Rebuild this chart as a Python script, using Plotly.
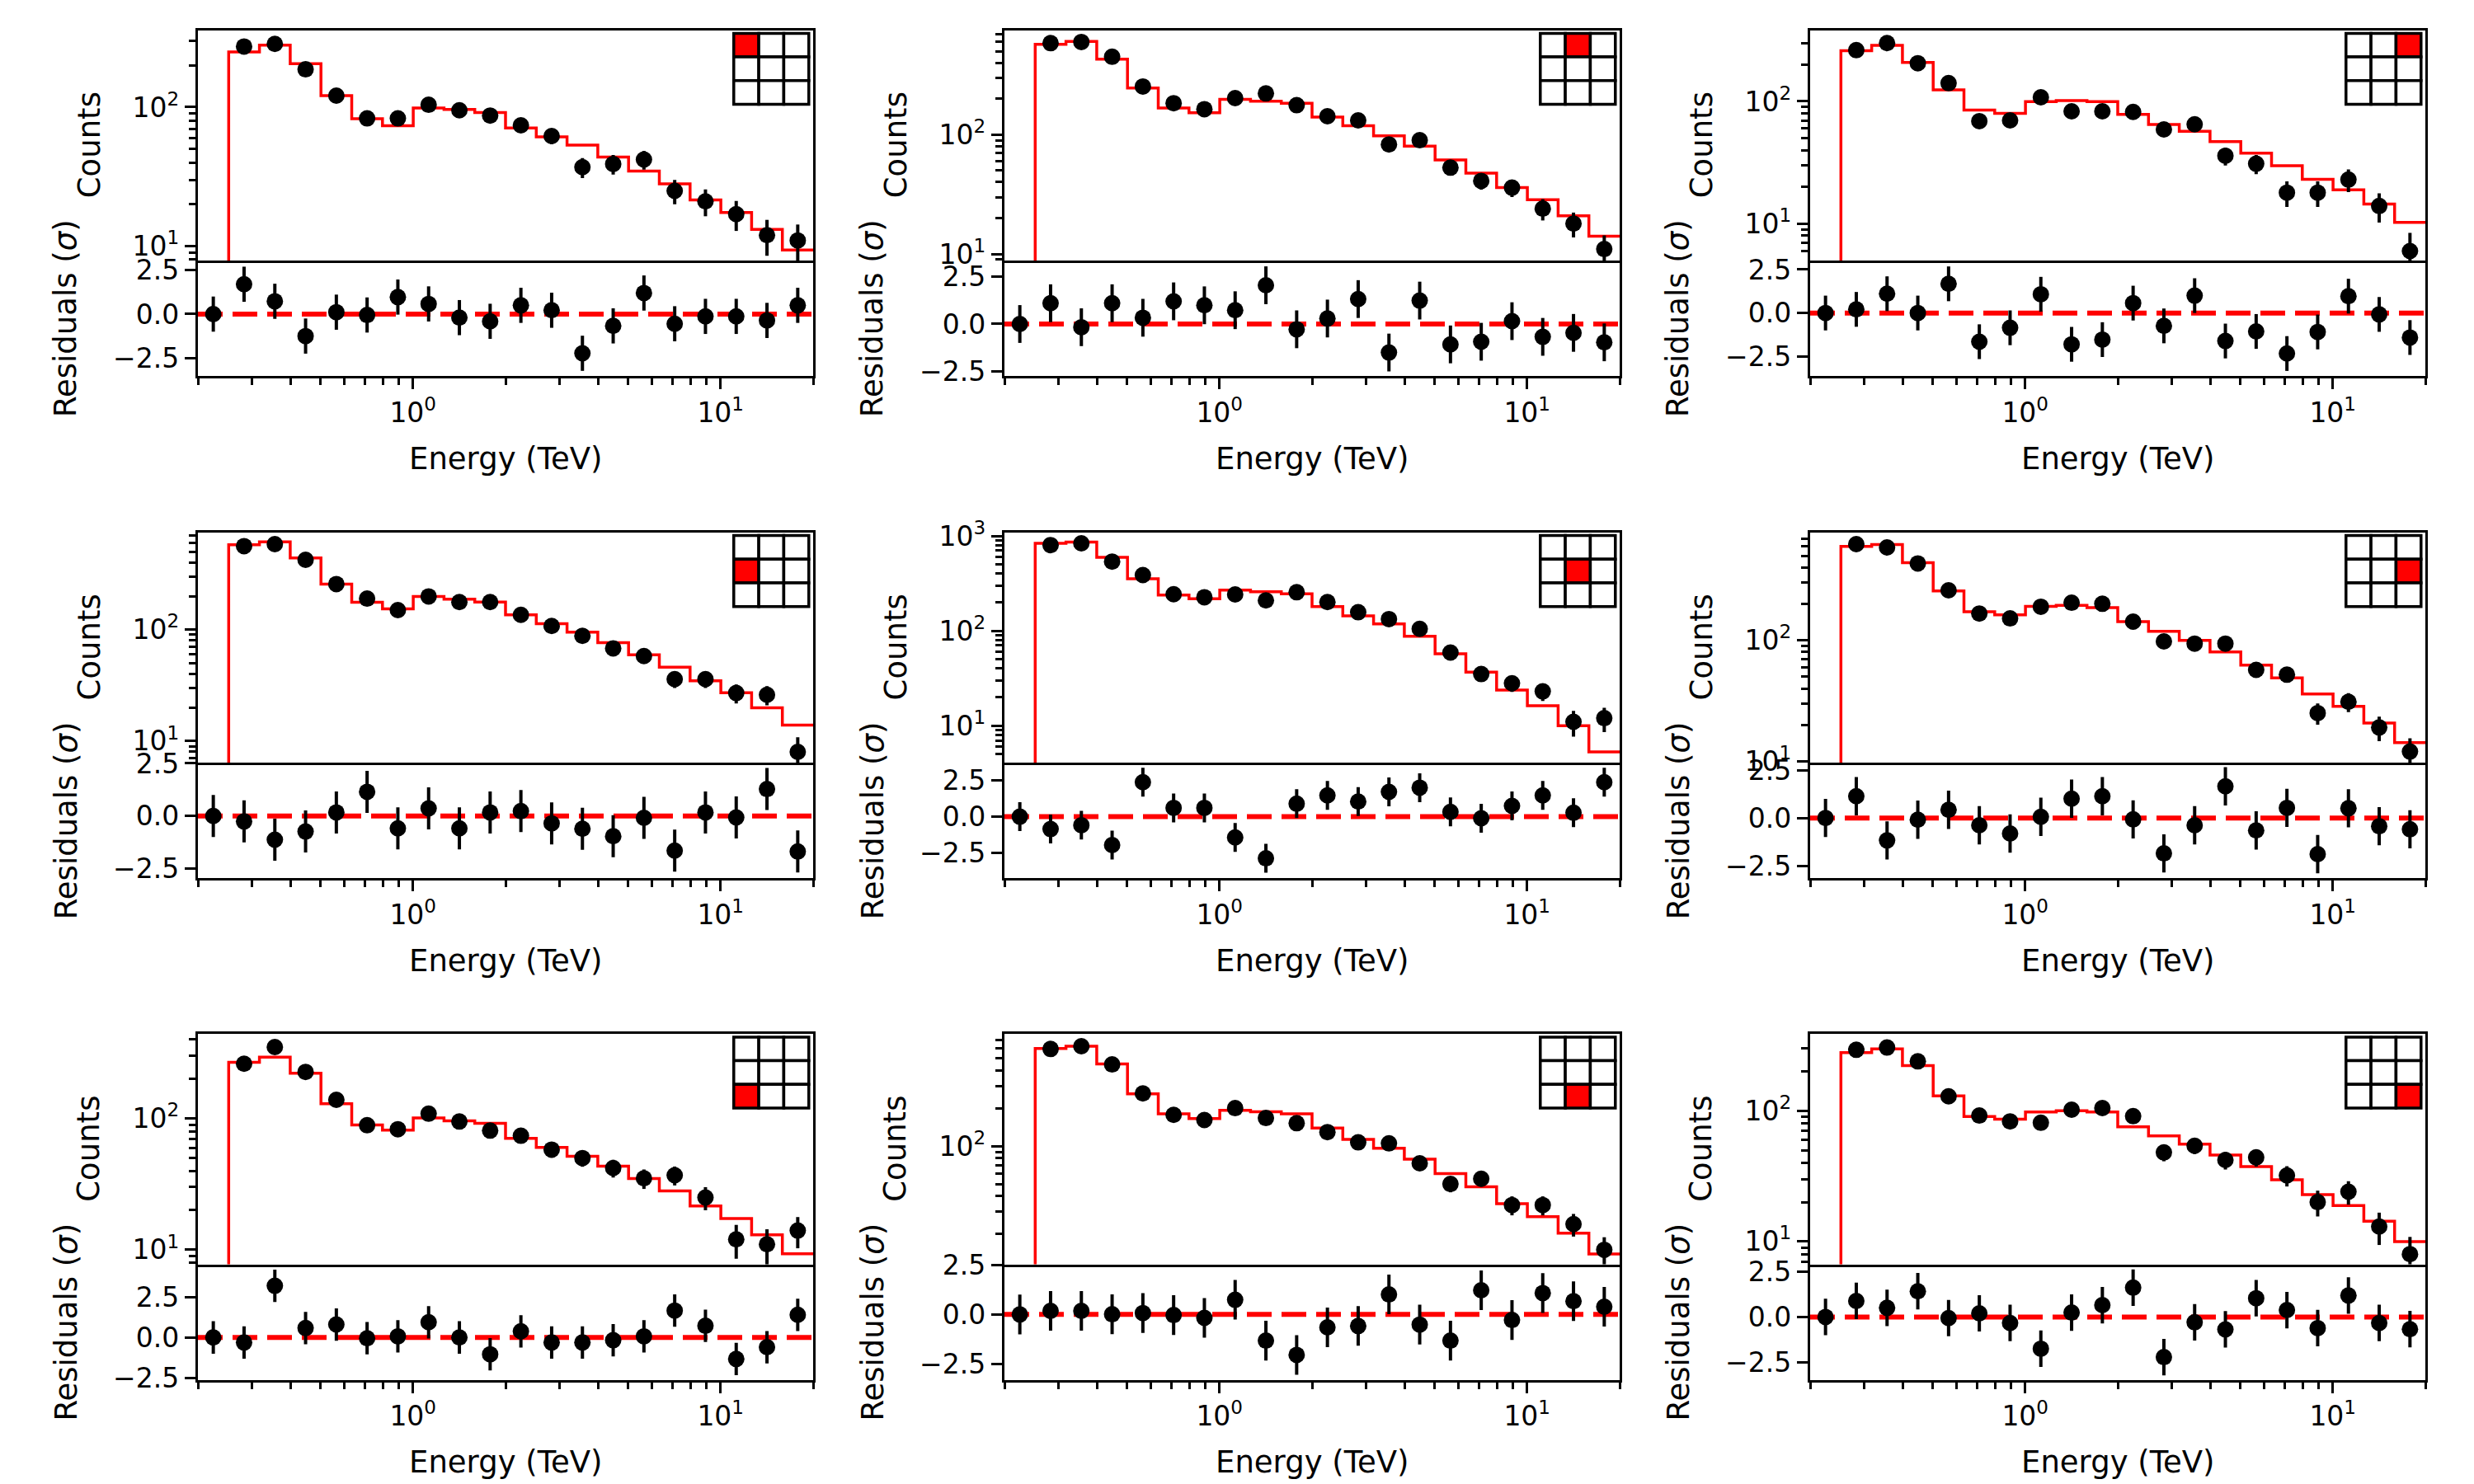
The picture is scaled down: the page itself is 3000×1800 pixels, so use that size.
import numpy as np
import plotly.graph_objects as go

# ---------------- data ----------------
energy_edges = [0.2, 0.2518, 0.3170, 0.3991, 0.5024, 0.6325, 0.7962, 1.0024, 1.2619, 1.5887,
                2.0, 2.5179, 3.1698, 3.9905, 5.0238, 6.3246, 7.9621, 10.024, 12.619, 15.887, 20.0]

counts_1 = [0, 273, 285, 187, 121, 83, 83, 104, 95, 87, 74, 62, 37, 39, 42, 25, 21, 17, 12, 11]
model_1 = [0, 249, 279, 205, 121, 82.6, 73.6, 98.7, 96.4, 91.3, 70.8, 61.1, 53.3, 43.8, 34.7, 28.1, 21.5, 17.5, 13.2, 9.4]
resid_1 = [0.0, 1.70, 0.73, -1.25, 0.11, -0.05, 0.97, 0.58, -0.20, -0.41, 0.50, 0.22, -2.23, -0.67, 1.20, -0.55, -0.13, -0.13, -0.36, 0.50]

counts_2 = [0, 587, 600, 451, 254, 184, 164, 203, 222, 177, 143, 132, 83, 90, 53, 41, 36, 24, 18, 11]
model_2 = [0, 573, 607, 431, 247, 168, 153, 198, 191, 184, 141, 119, 98, 80.4, 61.6, 47.7, 36, 28.5, 20.9, 14.1]
resid_2 = [0.0, 1.10, -0.17, 1.10, 0.33, 1.20, 0.99, 0.73, 2.05, -0.28, 0.29, 1.32, -1.51, 1.24, -1.08, -0.94, 0.15, -0.68, -0.47, -0.97]

counts_3 = [0, 262, 299, 205, 141, 69, 70, 108, 83, 83, 82, 59, 65, 36, 31, 18, 18, 23, 14, 6]
model_3 = [0, 259, 287, 208, 124, 85.1, 80, 99.5, 101.6, 99.5, 78.3, 64.7, 56.9, 47, 37.8, 29.9, 23.1, 19, 14.5, 10.3]
resid_3 = [0.0, 0.21, 1.11, 0.0, 1.68, -1.65, -0.85, 1.08, -1.80, -1.53, 0.57, -0.74, 1.00, -1.61, -1.06, -2.33, -1.09, 0.97, -0.08, -1.41]

counts_4 = [0, 563, 586, 424, 257, 190, 150, 199, 177, 177, 136, 108, 88, 68, 58, 36, 36, 27, 26, 8]
model_4 = [0, 579, 614, 441, 257, 176, 154, 199, 188, 177, 136, 113, 95, 76.6, 59.6, 46.1, 34.7, 27.2, 19.9, 13.9]
resid_4 = [0.0, -0.26, -1.13, -0.74, 0.17, 1.15, -0.59, 0.36, -0.59, 0.17, 0.23, -0.35, -0.61, -0.96, -0.09, -1.65, 0.17, -0.07, 1.28, -1.69]

counts_5 = [0, 801, 836, 537, 387, 243, 226, 242, 209, 255, 201, 157, 133, 105, 59, 35, 28, 23, 11, 12]
model_5 = [0, 836, 863, 594, 353, 238, 218, 269, 258, 246, 180, 144, 118, 87.5, 57.4, 36.7, 23.8, 16.2, 10, 5.3]
resid_5 = [0.0, -0.86, -0.59, -1.97, 2.39, 0.61, 0.61, -1.44, -2.89, 0.90, 1.48, 1.05, 1.72, 2.01, 0.33, -0.11, 0.75, 1.48, 0.27, 2.39]

counts_6 = [0, 627, 589, 434, 260, 167, 152, 190, 205, 201, 143, 98, 94, 94, 57, 52, 25, 31, 19, 12]
model_6 = [0, 601, 621, 441, 257, 173, 163, 191, 195, 187, 143, 119, 100, 80.2, 62.4, 48.8, 36, 28.4, 20.7, 14.2]
resid_6 = [0.0, 1.14, -1.17, -0.09, 0.43, -0.38, -0.81, 0.06, 1.01, 1.14, -0.07, -1.85, -0.38, 1.66, -0.65, 0.53, -1.89, 0.51, -0.43, -0.59]

counts_7 = [0, 262, 351, 227, 139, 89, 83, 109, 95, 81, 74, 58, 50, 42, 35, 37, 25, 12, 11, 14]
model_7 = [0, 269, 294, 222, 130, 89.5, 81.6, 101, 96.2, 92.1, 70.6, 60.2, 51.6, 43.4, 34.9, 28.1, 21.6, 17.3, 13, 9.3]
resid_7 = [0.0, -0.31, 3.19, 0.58, 0.80, -0.05, 0.07, 0.94, 0.0, -1.04, 0.38, -0.31, -0.31, -0.17, 0.07, 1.66, 0.72, -1.33, -0.60, 1.40]

counts_8 = [0, 590, 621, 445, 262, 177, 161, 200, 167, 152, 129, 107, 105, 73, 50, 55, 34, 34, 24, 15]
model_8 = [0, 596, 621, 448, 260, 180, 165, 192, 187, 180, 139, 113, 96.2, 78.6, 60.5, 47.5, 34.8, 27.5, 20.3, 13.9]
resid_8 = [0.0, 0.18, 0.18, 0.01, 0.07, -0.03, -0.17, 0.74, -1.32, -2.04, -0.65, -0.58, 1.01, -0.51, -1.32, 1.22, -0.28, 1.08, 0.67, 0.39]

counts_9 = [0, 293, 305, 239, 129, 92, 83, 81, 102, 105, 91, 48, 54, 42, 44, 32, 20, 24, 13, 8]
model_9 = [0, 279, 298, 222, 130, 90.3, 86.1, 98.1, 100, 98.1, 75.5, 64.3, 55.6, 45.8, 37.4, 29.6, 22.8, 18.8, 14.3, 9.96]
resid_9 = [0.0, 0.88, 0.50, 1.41, -0.06, 0.20, -0.33, -1.74, 0.24, 0.65, 1.61, -2.20, -0.29, -0.68, 1.03, 0.38, -0.61, 1.18, -0.33, -0.67]

counts_all = [counts_1, counts_2, counts_3, counts_4, counts_5, counts_6, counts_7, counts_8, counts_9]
model_all = [model_1, model_2, model_3, model_4, model_5, model_6, model_7, model_8, model_9]
resid_all = [resid_1, resid_2, resid_3, resid_4, resid_5, resid_6, resid_7, resid_8, resid_9]

x_tick_vals = [1, 10]
x_tick_text = ["10<sup>0</sup>", "10<sup>1</sup>"]
count_tick_vals = [1, 10, 100, 1000]
count_tick_text = ["10<sup>0</sup>", "10<sup>1</sup>", "10<sup>2</sup>", "10<sup>3</sup>"]
resid_tick_vals = [-2.5, 0.0, 2.5]
resid_tick_text = ["\u22122.5", "0.0", "2.5"]

x_label = "Energy (TeV)"
counts_label = "Counts"
resid_label = "Residuals (<i>\u03c3</i>)"

# ---------------- layout config (positions / ranges) ----------------
W, H = 3000, 1800
OFF = 8  # default page margin of the html body
col_left = [240 - OFF, 1218 - OFF, 2195 - OFF]
ax_w = 746
row_top = [36.5 - OFF, 645.7 - OFF, 1254.0 - OFF]
cnt_h = 279.5
res_h = 140.0

count_ranges = [[0.897, 2.554], [0.945, 2.878], [0.701, 2.582],
                [0.805, 2.874], [0.609, 3.038], [0.986, 2.895],
                [0.889, 2.646], [1.061, 2.891], [0.825, 2.589]]
resid_ranges = [[-3.52, 3.05], [-2.75, 3.36], [-3.62, 3.02],
                [-2.96, 2.53], [-4.27, 3.74], [-3.15, 2.89],
                [-2.61, 4.52], [-3.29, 2.53], [-3.44, 2.89]]

FONT = "DejaVu Sans"
TICK_FS = 33
LABEL_FS = 37
LW = 3.3

edges = np.array(energy_edges)
centers = np.sqrt(edges[:-1] * edges[1:])
log_minor = [k * 10.0 ** d for d in range(-1, 4) for k in range(2, 10)]
x_minor = [v for v in log_minor if 0.2 <= v <= 20 and v not in (1, 10)]

fig = go.Figure()
layout = dict(width=W, height=H, margin=dict(l=0, r=0, t=0, b=0, pad=0, autoexpand=False),
              template="none",
              paper_bgcolor="white", plot_bgcolor="white", showlegend=False,
              font=dict(family=FONT, size=TICK_FS, color="black"))
shapes = []
annotations = []

def axname(kind, i):
    return f"{kind}axis" if i == 1 else f"{kind}axis{i}"

def ref(kind, i):
    return kind if i == 1 else f"{kind}{i}"

base_axis = dict(showline=True, linecolor="black", linewidth=LW, mirror=True,
                 showgrid=False, zeroline=False, tickcolor="black", automargin=False,
                 tickfont=dict(family=FONT, size=TICK_FS, color="black"))

for p in range(9):
    r, c = p // 3, p % 3
    ic, ir = 2 * p + 1, 2 * p + 2
    x0 = col_left[c] / W
    x1 = (col_left[c] + ax_w) / W
    top = row_top[r]
    cy1 = 1 - top / H
    cy0 = 1 - (top + cnt_h) / H
    ry1 = cy0
    ry0 = 1 - (top + cnt_h + res_h) / H

    # counts axes
    layout[axname("x", ic)] = dict(base_axis, type="log", domain=[x0, x1],
                                   range=[np.log10(0.2), np.log10(20)],
                                   anchor=ref("y", ic), ticks="", showticklabels=False)
    layout[axname("y", ic)] = dict(base_axis, type="log", domain=[cy0, cy1],
                                   range=count_ranges[p], anchor=ref("x", ic),
                                   ticks="outside", ticklen=13, tickwidth=3,
                                   tickmode="array", tickvals=count_tick_vals,
                                   ticktext=count_tick_text,
                                   minor=dict(tickmode="array", tickvals=log_minor,
                                              ticks="outside", ticklen=8, tickwidth=2.5,
                                              tickcolor="black"))
    # residual axes (no top line: the counts panel's bottom line is shared)
    layout[axname("x", ir)] = dict(base_axis, type="log", domain=[x0, x1], mirror=False,
                                   range=[np.log10(0.2), np.log10(20)],
                                   anchor=ref("y", ir), ticks="outside", ticklen=13,
                                   tickwidth=3, tickmode="array", tickvals=x_tick_vals,
                                   ticktext=x_tick_text,
                                   minor=dict(tickmode="array", tickvals=x_minor,
                                              ticks="outside", ticklen=8, tickwidth=2.5,
                                              tickcolor="black"))
    layout[axname("y", ir)] = dict(base_axis, domain=[ry0, ry1], range=resid_ranges[p],
                                   anchor=ref("x", ir), ticks="outside", ticklen=13,
                                   tickwidth=3, tickmode="array", tickvals=resid_tick_vals,
                                   ticktext=resid_tick_text)

    cnt = np.array(counts_all[p], dtype=float)
    mod = np.array(model_all[p], dtype=float)
    res = np.array(resid_all[p], dtype=float)

    # model step histogram
    step_y = np.append(mod, mod[-1])
    step_y = np.where(step_y > 0, step_y, 1e-3)
    fig.add_trace(go.Scatter(x=edges, y=step_y, mode="lines",
                             line=dict(color="#ff0000", width=3.5, shape="hv"),
                             xaxis=ref("x", ic), yaxis=ref("y", ic), hoverinfo="skip"))
    # counts
    m = cnt > 0
    fig.add_trace(go.Scatter(x=centers[m], y=cnt[m], mode="markers",
                             marker=dict(color="black", size=20),
                             error_y=dict(type="data", array=np.sqrt(cnt[m]), thickness=4,
                                          width=0, color="black"),
                             xaxis=ref("x", ic), yaxis=ref("y", ic)))
    # residuals
    fig.add_trace(go.Scatter(x=centers, y=res, mode="markers",
                             marker=dict(color="black", size=20),
                             error_y=dict(type="constant", value=1, thickness=4,
                                          width=0, color="black"),
                             xaxis=ref("x", ir), yaxis=ref("y", ir)))
    # zero line
    shapes.append(dict(type="line", xref=f"{ref('x', ir)} domain", x0=0, x1=1,
                       yref=ref("y", ir), y0=0, y1=0, layer="below",
                       line=dict(color="#ff0000", width=6, dash="30px,12px")))
    # inset grid
    gx0, gx1, gy0, gy1 = 0.871, 0.993, 0.678, 0.986
    cw, ch = (gx1 - gx0) / 3, (gy1 - gy0) / 3
    for i in range(3):
        for j in range(3):
            shapes.append(dict(type="rect", xref=f"{ref('x', ic)} domain",
                               yref=f"{ref('y', ic)} domain",
                               x0=gx0 + j * cw, x1=gx0 + (j + 1) * cw,
                               y0=gy1 - (i + 1) * ch, y1=gy1 - i * ch,
                               fillcolor="#ff0000" if (i, j) == (r, c) else "white",
                               line=dict(color="black", width=3.5), layer="above"))
    # labels
    annotations.append(dict(text=counts_label, xref="paper", yref="paper",
                            x=(col_left[c] - 132) / W, y=(cy0 + cy1) / 2,
                            xanchor="center", yanchor="middle", textangle=-90,
                            showarrow=False, font=dict(family=FONT, size=LABEL_FS, color="black")))
    annotations.append(dict(text=resid_label, xref="paper", yref="paper",
                            x=(col_left[c] - 160) / W, y=(ry0 + ry1) / 2,
                            xanchor="center", yanchor="middle", textangle=-90,
                            showarrow=False, font=dict(family=FONT, size=LABEL_FS, color="black")))
    annotations.append(dict(text=x_label, xref="paper", yref="paper",
                            x=(x0 + x1) / 2, y=1 - (top + cnt_h + res_h + 100) / H,
                            xanchor="center", yanchor="middle",
                            showarrow=False, font=dict(family=FONT, size=LABEL_FS, color="black")))

layout["shapes"] = shapes
layout["annotations"] = annotations
fig.update_layout(**layout)
fig.write_html("out.html")
